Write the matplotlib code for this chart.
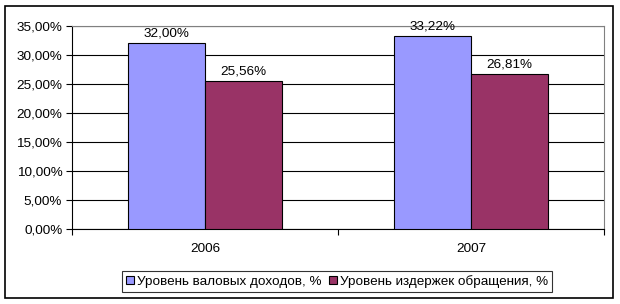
import matplotlib
matplotlib.use('Agg')
from matplotlib import pyplot as plt
from matplotlib.patches import Rectangle
import numpy as np

plt.rcParams['font.family'] = ['Liberation Sans', 'DejaVu Sans']

years = ['2006', '2007']
gross_income = [32.00, 33.22]
costs = [25.56, 26.81]
series_names = ['Уровень валовых доходов, %', 'Уровень издержек обращения, %']
colors = ['#9999FF', '#993366']

fs = 9.7
fig = plt.figure(figsize=(6.2, 3.04), dpi=100)
ax = fig.add_axes([72/620, 75/304, 532/620, 203/304])

x = np.arange(len(years))
w = 0.29
b1 = ax.bar(x - w/2, gross_income, w, color=colors[0], edgecolor='black', linewidth=0.8, label=series_names[0], zorder=3)
b2 = ax.bar(x + w/2, costs, w, color=colors[1], edgecolor='black', linewidth=0.8, label=series_names[1], zorder=3)

fmt = lambda v: f'{v:.2f}%'.replace('.', ',')
for bars, vals in ((b1, gross_income), (b2, costs)):
    for r, v in zip(bars, vals):
        ax.text(r.get_x() + r.get_width()/2, v + 0.6, fmt(v), ha='center', va='bottom', fontsize=fs, zorder=4)

ax.set_ylim(0, 35)
ax.set_xlim(-0.5, 1.5)
yt = np.arange(0, 36, 5)
ax.set_yticks(yt)
ax.set_yticklabels([fmt(v) for v in yt], fontsize=fs)
ax.yaxis.grid(True, color='black', linewidth=0.8, zorder=0)
ax.set_xticks(x)
ax.set_xticklabels(years, fontsize=fs)
ax.set_xticks([-0.5, 0.5, 1.5], minor=True)
ax.tick_params(axis='x', which='major', length=0, pad=10)
ax.tick_params(axis='x', which='minor', length=4, direction='out', width=0.8)
ax.tick_params(axis='y', length=4, direction='out', width=0.8, pad=3)

ax.spines['top'].set_color('#808080')
ax.spines['right'].set_color('#808080')
ax.spines['left'].set_color('black')
ax.spines['bottom'].set_color('black')
for s in ax.spines.values():
    s.set_linewidth(0.8)

leg = fig.legend(loc='center', bbox_to_anchor=(337/620, 1 - 281.5/304), ncol=2, fontsize=fs,
                 frameon=True, fancybox=False, edgecolor='black', handlelength=0.6, handleheight=0.6,
                 handletextpad=0.25, columnspacing=0.5, borderpad=0.3, borderaxespad=0)
leg.get_frame().set_linewidth(0.8)

fig.patches.append(Rectangle((5/620, 6/304), 608/620, 292/304, transform=fig.transFigure,
                             fill=False, edgecolor='black', linewidth=1.2))

fig.savefig('out.png', dpi=100)
